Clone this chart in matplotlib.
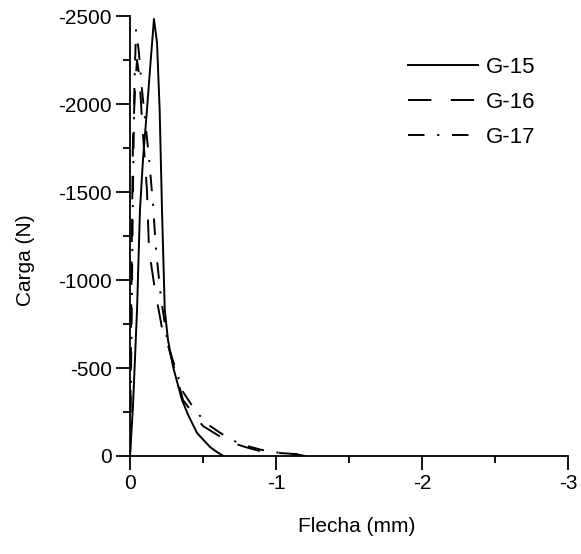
import matplotlib
matplotlib.use('Agg')
import matplotlib.pyplot as plt
from matplotlib.ticker import MultipleLocator

plt.rcParams['font.family'] = ['Liberation Sans', 'DejaVu Sans']
plt.rcParams['axes.unicode_minus'] = False

# Flecha (mm) and Carga (N)
g15_x = [0, -0.02, -0.048, -0.068, -0.09, -0.116, -0.14, -0.164, -0.185, -0.203,
         -0.219, -0.238, -0.26, -0.295, -0.356, -0.40, -0.459, -0.548, -0.60, -0.64]
g15_y = [0, -280, -830, -1398, -1700, -1966, -2230, -2483, -2347, -1966,
         -1398, -830, -659, -506, -318, -230, -131, -51, -20, 0]

g16_x = [0, -0.005, -0.012, -0.02, -0.035, -0.048, -0.065, -0.082, -0.116, -0.13,
         -0.171, -0.219, -0.26, -0.363, -0.43, -0.5, -0.6, -0.68, -0.79, -0.91,
         -1.0, -1.14, -1.18]
g16_y = [0, -500, -1200, -1800, -2100, -2250, -2150, -1909, -1511, -1170,
         -943, -727, -630, -318, -244, -170, -119, -80, -51, -23,
         -18, -11, 0]

g17_x = [0, -0.01, -0.02, -0.03, -0.041, -0.06, -0.082, -0.13, -0.158, -0.178,
         -0.212, -0.26, -0.363, -0.445, -0.527, -0.63, -0.753, -0.904, -1.03,
         -1.16, -1.2]
g17_y = [0, -700, -1500, -2100, -2420, -2300, -2080, -1693, -1426, -1170,
         -898, -630, -364, -261, -182, -125, -68, -34, -17, -6, 0]

fig = plt.figure(figsize=(5.81, 5.54), dpi=100)
ax = fig.add_axes([0.2238, 0.1769, 0.7538, 0.7942])

lw = 1.4
ax.plot(g15_x, g15_y, color='black', lw=lw, label='G-15')
ax.plot(g16_x, g16_y, color='black', lw=lw, linestyle=(0, (12, 10)), label='G-16')
ax.plot(g17_x, g17_y, color='black', lw=lw, linestyle=(0, (8.5, 6.5, 1.1, 6.5)), label='G-17')

ax.set_xlim(0, -3)
ax.set_ylim(0, -2500)
ax.xaxis.set_major_locator(MultipleLocator(1))
ax.xaxis.set_minor_locator(MultipleLocator(0.5))
ax.yaxis.set_major_locator(MultipleLocator(500))
ax.yaxis.set_minor_locator(MultipleLocator(250))

for side in ['top', 'right']:
    ax.spines[side].set_visible(False)
for side in ['left', 'bottom']:
    ax.spines[side].set_linewidth(1.3)

ax.tick_params(which='major', direction='out', length=10, width=1.3,
               labelsize=15, pad=3)
ax.tick_params(which='minor', direction='out', length=5, width=1.3)

ax.set_xlabel('Flecha (mm)', fontsize=15)
ax.set_ylabel('Carga (N)', fontsize=15)
ax.xaxis.set_label_coords(0.518, -0.139)
ax.yaxis.set_label_coords(-0.217, 0.445)

ax.legend(loc='upper left', bbox_to_anchor=(408 / 581, 1 - 57 / 554),
          bbox_transform=fig.transFigure, frameon=False, fontsize=16,
          handlelength=3.15, handletextpad=0.36, labelspacing=0.62,
          borderpad=0, borderaxespad=0)

fig.savefig('out.png', dpi=100)
